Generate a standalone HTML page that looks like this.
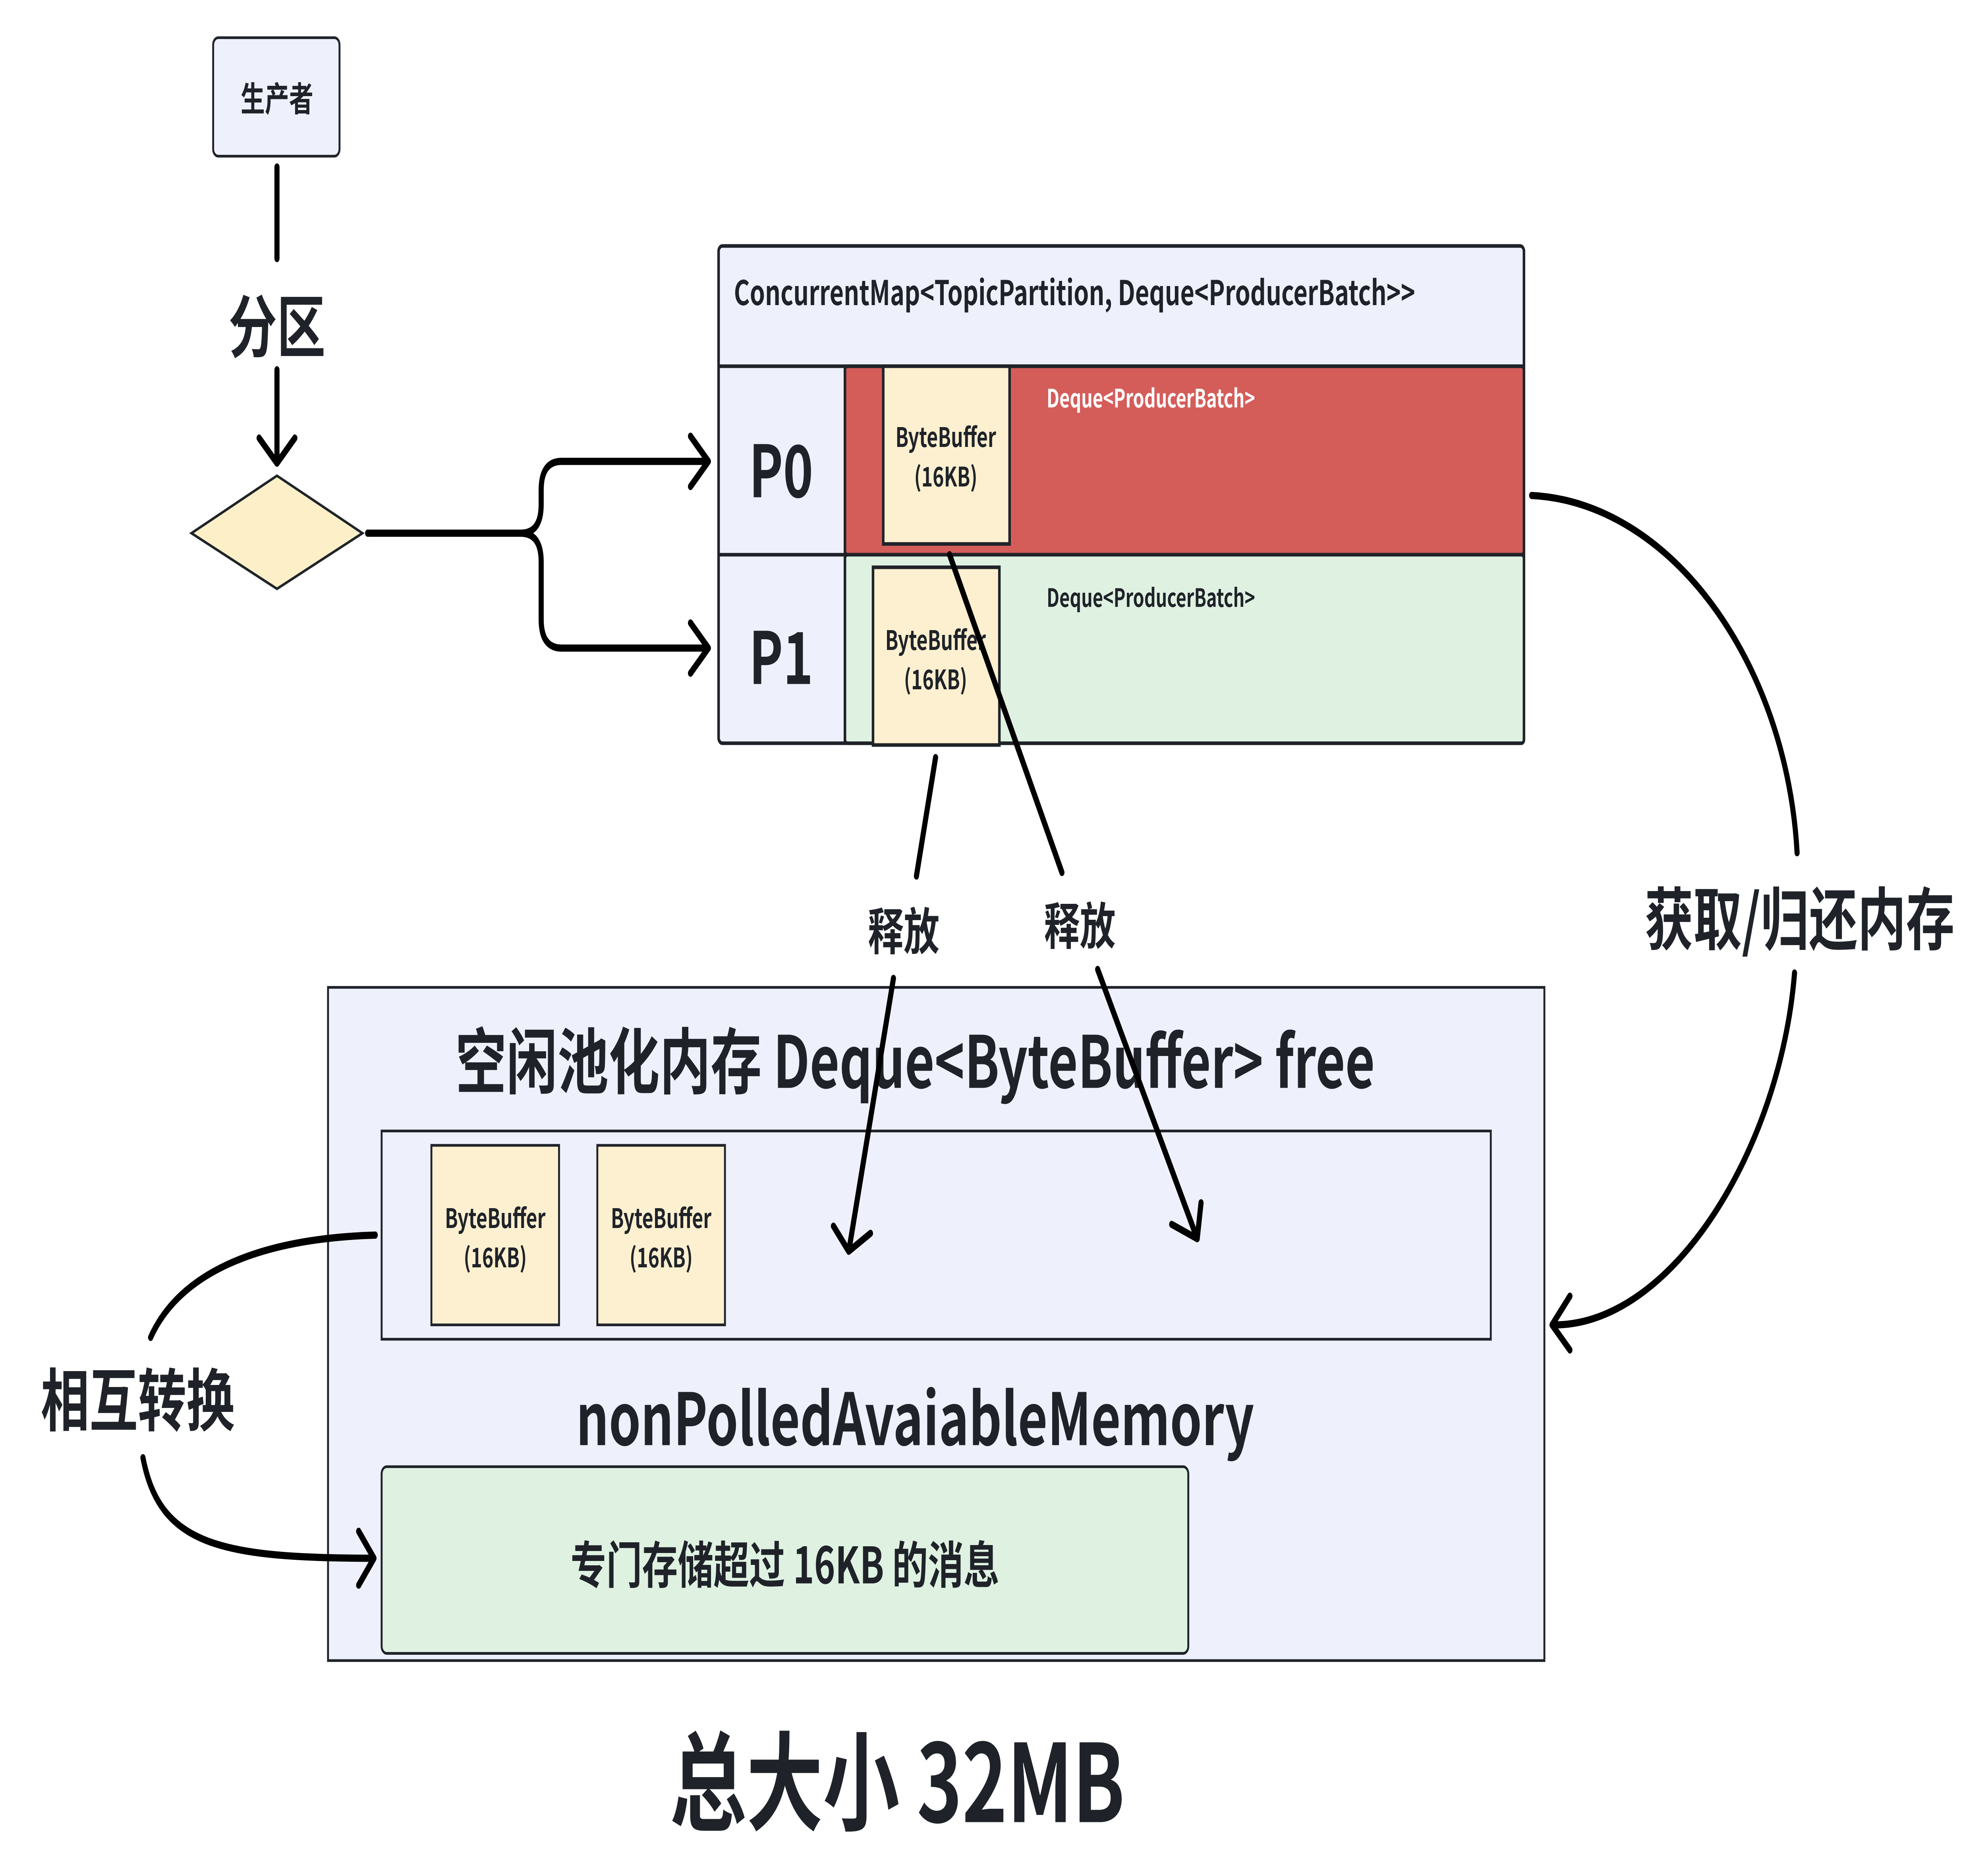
<!DOCTYPE html>
<html><head><meta charset="utf-8"><style>
html,body{margin:0;padding:0;background:#fff;width:100%;height:100%;overflow:hidden;}
svg{display:block;position:absolute;left:0;top:0;width:100vw;height:100vh;}
text{font-family:"Noto Sans CJK SC",sans-serif;font-weight:bold;fill:#1f2329;}
</style></head><body>
<svg viewBox="0 0 1556 1045" preserveAspectRatio="none" xmlns="http://www.w3.org/2000/svg">
<!-- producer -->
<rect x="167" y="21" width="99" height="66" rx="4" fill="#eef1fb" stroke="#1f2329" stroke-width="1.5"/>
<text x="217" y="62" font-size="19" text-anchor="middle">生产者</text>
<g stroke="#000" stroke-width="4" fill="none" stroke-linecap="round" stroke-linejoin="round">
<path d="M217 93 V144"/>
<path d="M217 206 V258 M203 244 L217 258 L231 244"/>
<path d="M288 297 H408 Q424 297 424 281 V273 Q424 257 440 257 H555 M541 243 L555 257 L541 271"/>
<path d="M408 297 Q424 297 424 313 V345 Q424 361 440 361 H555 M541 347 L555 361 L541 375"/>
</g>
<text x="217" y="196" font-size="38" text-anchor="middle">分区</text>
<polygon points="150,297 217,265 284,297 217,328" fill="#fdf0c8" stroke="#1f2329" stroke-width="1.5"/>
<!-- map -->
<rect x="563" y="137" width="631" height="277" rx="3" fill="#eef1fb" stroke="#1f2329" stroke-width="2"/>
<text x="575" y="170" font-size="19">ConcurrentMap&lt;TopicPartition, Deque&lt;ProducerBatch&gt;&gt;</text>
<rect x="662" y="204" width="532" height="105" rx="2" fill="#d45d5a" stroke="#1f2329" stroke-width="2"/>
<rect x="662" y="309" width="532" height="105" rx="2" fill="#dff2e2" stroke="#1f2329" stroke-width="2"/>
<line x1="563" y1="204" x2="1194" y2="204" stroke="#1f2329" stroke-width="2"/>
<line x1="563" y1="309" x2="662" y2="309" stroke="#1f2329" stroke-width="2"/>
<line x1="662" y1="204" x2="662" y2="414" stroke="#1f2329" stroke-width="2"/>
<text x="612" y="277" font-size="40" text-anchor="middle">P0</text>
<text x="612" y="381" font-size="40" text-anchor="middle">P1</text>
<rect x="692" y="204" width="99" height="99" fill="#fdf0d0" stroke="#1f2329" stroke-width="2"/>
<text x="741" y="249" font-size="15" text-anchor="middle">ByteBuffer</text>
<text x="741" y="271" font-size="15" text-anchor="middle">(16KB)</text>
<rect x="684" y="316" width="99" height="99" fill="#fdf0d0" stroke="#1f2329" stroke-width="2"/>
<text x="733" y="362" font-size="15" text-anchor="middle">ByteBuffer</text>
<text x="733" y="384" font-size="15" text-anchor="middle">(16KB)</text>
<text x="820" y="227" font-size="14" style="fill:#fff">Deque&lt;ProducerBatch&gt;</text>
<text x="820" y="338" font-size="14">Deque&lt;ProducerBatch&gt;</text>
<!-- bottom -->
<rect x="257" y="550" width="953" height="375" fill="#eef1fb" stroke="#1f2329" stroke-width="1.5"/>
<text x="717" y="606" font-size="40" text-anchor="middle">空闲池化内存 Deque&lt;ByteBuffer&gt; free</text>
<rect x="299" y="630" width="869" height="116" fill="#eef1fb" stroke="#1f2329" stroke-width="1.5"/>
<rect x="338" y="638" width="100" height="100" fill="#fdf0d0" stroke="#1f2329" stroke-width="1.5"/>
<text x="388" y="684" font-size="15" text-anchor="middle">ByteBuffer</text>
<text x="388" y="706" font-size="15" text-anchor="middle">(16KB)</text>
<rect x="468" y="638" width="100" height="100" fill="#fdf0d0" stroke="#1f2329" stroke-width="1.5"/>
<text x="518" y="684" font-size="15" text-anchor="middle">ByteBuffer</text>
<text x="518" y="706" font-size="15" text-anchor="middle">(16KB)</text>
<text x="717" y="805" font-size="40" text-anchor="middle">nonPolledAvaiableMemory</text>
<rect x="299" y="817" width="632" height="104" rx="4" fill="#dff2e2" stroke="#1f2329" stroke-width="1.5"/>
<text x="615" y="882" font-size="28" text-anchor="middle">专门存储超过 16KB 的消息</text>
<text x="703" y="1015" font-size="60" text-anchor="middle">总大小 32MB</text>
<!-- connectors -->
<g stroke="#000" stroke-width="4" fill="none" stroke-linecap="round" stroke-linejoin="round">
<path d="M733 422 L718 488"/>
<path d="M700 545 L665 697 M653 683 L665 697 L682 687"/>
<path d="M744 309 L832 486"/>
<path d="M860 540 L938 690 M918 682 L938 690 L941 670"/>
<path d="M1200 276 C1310 280 1400 370 1408 475"/>
<path d="M1406 542 C1395 640 1310 738 1218 738 M1230 722 L1216 738 L1230 752"/>
<path d="M294 688 C200 690 140 710 118 745"/>
<path d="M112 812 C125 860 170 868 293 868 M281 853 L293 868 L281 883"/>
</g>
<text x="708" y="529" font-size="28" text-anchor="middle">释放</text>
<text x="846" y="526" font-size="28" text-anchor="middle">释放</text>
<text x="1410" y="526" font-size="38" text-anchor="middle">获取/归还内存</text>
<text x="108" y="794" font-size="38" text-anchor="middle">相互转换</text>
</svg>
</body></html>
